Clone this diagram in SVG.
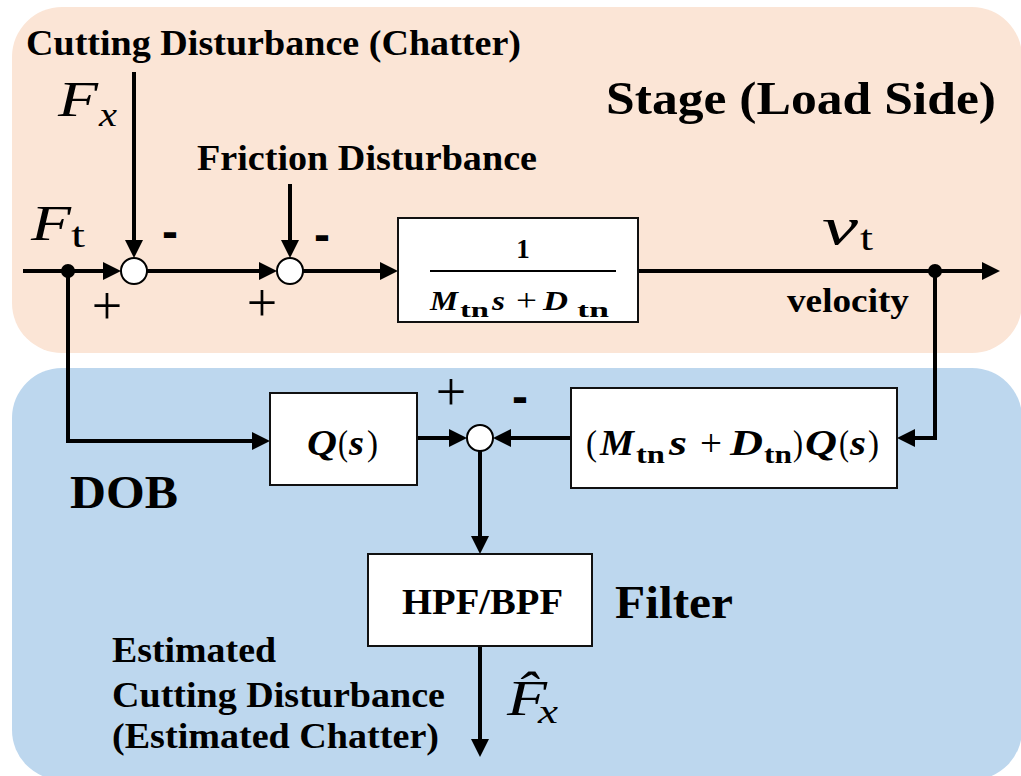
<svg xmlns="http://www.w3.org/2000/svg" width="1021" height="776" viewBox="0 0 1021 776">
  <defs>
    <marker id="arr" markerUnits="userSpaceOnUse" markerWidth="18" markerHeight="18" viewBox="0 0 18 18" refX="14" refY="9" orient="auto">
      <path d="M0,0 L18,9 L0,18 z" fill="#000"/>
    </marker>
  </defs>
  <style>
    text { font-family: "Liberation Serif", "Times New Roman", serif; fill: #000; }
    .lbl { font-weight: bold; }
    .math { font-style: italic; }
    .mrm { font-style: normal; }
    .bm { font-weight: bold; font-style: italic; }
    .bsub { font-weight: bold; font-style: normal; }
    .plus { font-size: 54px; text-anchor: middle; }
    .minus { font-family: "Liberation Sans", Arial, sans-serif; font-weight: bold; font-size: 48px; text-anchor: middle; }
    .box { fill: #fff; stroke: #111; stroke-width: 2; }
    .sum { fill: #fff; stroke: #000; stroke-width: 2; }
    .wire { fill: none; stroke: #000; stroke-width: 4; }
  </style>

  <g id="regions">
    <rect x="12" y="7" width="1010" height="346" rx="50" ry="50" fill="#FBE5D6"/>
    <rect x="12" y="368" width="1010" height="412" rx="50" ry="50" fill="#BDD7EE"/>
  </g>

  <g id="region-labels">
    <text class="lbl" x="606" y="114" font-size="46" textLength="390" lengthAdjust="spacingAndGlyphs">Stage (Load Side)</text>
    <text class="lbl" x="70" y="508" font-size="46" textLength="108" lengthAdjust="spacingAndGlyphs">DOB</text>
    <text class="lbl" x="615" y="618" font-size="46" textLength="118" lengthAdjust="spacingAndGlyphs">Filter</text>
  </g>

  <g id="connectors">
    <path class="wire" d="M23,271 H117" marker-end="url(#arr)"/>
    <path class="wire" d="M147,271 H273" marker-end="url(#arr)"/>
    <path class="wire" d="M303,271 H394" marker-end="url(#arr)"/>
    <path class="wire" d="M638,271 H996" marker-end="url(#arr)"/>
    <path class="wire" d="M134,72 V254" marker-end="url(#arr)"/>
    <path class="wire" d="M290,184 V254" marker-end="url(#arr)"/>
    <path class="wire" d="M68,271 V441 H266" marker-end="url(#arr)"/>
    <path class="wire" d="M935,271 V438 H901" marker-end="url(#arr)"/>
    <path class="wire" d="M417,438 H463" marker-end="url(#arr)"/>
    <path class="wire" d="M571,438 H497" marker-end="url(#arr)"/>
    <path class="wire" d="M480,451 V550" marker-end="url(#arr)"/>
    <path class="wire" d="M480,646 V753" marker-end="url(#arr)"/>
    <circle cx="68" cy="271" r="7" fill="#000"/>
    <circle cx="935" cy="271" r="7" fill="#000"/>
  </g>

  <g id="sum1">
    <circle class="sum" cx="134" cy="271" r="13"/>
    <text class="minus" x="170" y="248">-</text>
    <text class="plus" x="107" y="324">+</text>
  </g>
  <g id="sum2">
    <circle class="sum" cx="290" cy="271" r="13"/>
    <text class="minus" x="322" y="251">-</text>
    <text class="plus" x="262" y="321">+</text>
  </g>
  <g id="sum3">
    <circle class="sum" cx="480" cy="438" r="13"/>
    <text class="minus" x="520" y="413">-</text>
    <text class="plus" x="451" y="410">+</text>
  </g>

  <g id="cutting-disturbance">
    <text class="lbl" x="26" y="55" font-size="36" textLength="495" lengthAdjust="spacingAndGlyphs">Cutting Disturbance (Chatter)</text>
    <text class="math" x="58" y="116" font-size="50" textLength="40" lengthAdjust="spacingAndGlyphs">F</text>
    <text class="math" x="99" y="126" font-size="34" textLength="18" lengthAdjust="spacingAndGlyphs">x</text>
  </g>

  <g id="friction-disturbance">
    <text class="lbl" x="197" y="170" font-size="36" textLength="340" lengthAdjust="spacingAndGlyphs">Friction Disturbance</text>
  </g>

  <g id="input-ft">
    <text class="math" x="31" y="240" font-size="50" textLength="40" lengthAdjust="spacingAndGlyphs">F</text>
    <text class="mrm" x="71" y="247" font-size="36" textLength="14" lengthAdjust="spacingAndGlyphs">t</text>
  </g>

  <g id="plant">
    <rect class="box" x="398" y="218" width="240" height="104"/>
    <text class="bsub" x="523" y="258" font-size="27" text-anchor="middle">1</text>
    <line x1="430" y1="271" x2="616" y2="271" stroke="#000" stroke-width="2"/>
    <text class="bm" x="430" y="310" font-size="27" textLength="28" lengthAdjust="spacingAndGlyphs">M</text>
    <text class="bsub" x="460" y="317" font-size="20" textLength="29" lengthAdjust="spacingAndGlyphs">tn</text>
    <text class="bm" x="492" y="310" font-size="27" textLength="13" lengthAdjust="spacingAndGlyphs">s</text>
    <text class="mrm" x="516" y="311" font-size="31" textLength="21" lengthAdjust="spacingAndGlyphs">+</text>
    <text class="bm" x="543" y="310" font-size="27" textLength="25" lengthAdjust="spacingAndGlyphs">D</text>
    <text class="bsub" x="577" y="317" font-size="20" textLength="32" lengthAdjust="spacingAndGlyphs">tn</text>
  </g>

  <g id="output-vt">
    <text class="math" x="822" y="244" font-size="52" textLength="36" lengthAdjust="spacingAndGlyphs">v</text>
    <text class="mrm" x="860" y="250" font-size="36" textLength="13" lengthAdjust="spacingAndGlyphs">t</text>
    <text class="lbl" x="787" y="312" font-size="34" textLength="122" lengthAdjust="spacingAndGlyphs">velocity</text>
  </g>

  <g id="q-filter">
    <rect class="box" x="270" y="393" width="147" height="92"/>
    <text class="bm" x="307" y="455" font-size="35" textLength="30" lengthAdjust="spacingAndGlyphs">Q</text>
    <text class="mrm" x="338" y="455" font-size="35" textLength="10" lengthAdjust="spacingAndGlyphs">(</text>
    <text class="bm" x="349" y="455" font-size="35" textLength="15" lengthAdjust="spacingAndGlyphs">s</text>
    <text class="mrm" x="367" y="455" font-size="35" textLength="11" lengthAdjust="spacingAndGlyphs">)</text>
  </g>

  <g id="inverse-model">
    <rect class="box" x="571" y="388" width="326" height="100"/>
    <text class="mrm" x="586" y="455" font-size="35" textLength="11" lengthAdjust="spacingAndGlyphs">(</text>
    <text class="bm" x="600" y="455" font-size="35" textLength="34" lengthAdjust="spacingAndGlyphs">M</text>
    <text class="bsub" x="636" y="463" font-size="26" textLength="29" lengthAdjust="spacingAndGlyphs">tn</text>
    <text class="bm" x="669" y="455" font-size="35" textLength="18" lengthAdjust="spacingAndGlyphs">s</text>
    <text class="mrm" x="700" y="456" font-size="38" textLength="22" lengthAdjust="spacingAndGlyphs">+</text>
    <text class="bm" x="730" y="455" font-size="35" textLength="33" lengthAdjust="spacingAndGlyphs">D</text>
    <text class="bsub" x="764" y="463" font-size="26" textLength="28" lengthAdjust="spacingAndGlyphs">tn</text>
    <text class="mrm" x="793" y="455" font-size="35" textLength="10" lengthAdjust="spacingAndGlyphs">)</text>
    <text class="bm" x="805" y="455" font-size="35" textLength="32" lengthAdjust="spacingAndGlyphs">Q</text>
    <text class="mrm" x="839" y="455" font-size="35" textLength="10" lengthAdjust="spacingAndGlyphs">(</text>
    <text class="bm" x="850" y="455" font-size="35" textLength="16" lengthAdjust="spacingAndGlyphs">s</text>
    <text class="mrm" x="868" y="455" font-size="35" textLength="11" lengthAdjust="spacingAndGlyphs">)</text>
  </g>

  <g id="hpf-bpf">
    <rect class="box" x="368" y="554" width="224" height="92"/>
    <text class="lbl" x="402" y="614" font-size="36" textLength="161" lengthAdjust="spacingAndGlyphs">HPF/BPF</text>
  </g>

  <g id="estimate-output">
    <text class="math" x="507" y="715" font-size="50" textLength="40" lengthAdjust="spacingAndGlyphs">F̂</text>
    <text class="math" x="538" y="723" font-size="34" textLength="20" lengthAdjust="spacingAndGlyphs">x</text>
    <text class="lbl" x="112" y="662" font-size="36" textLength="164" lengthAdjust="spacingAndGlyphs">Estimated</text>
    <text class="lbl" x="112" y="707" font-size="36" textLength="333" lengthAdjust="spacingAndGlyphs">Cutting Disturbance</text>
    <text class="lbl" x="112" y="748" font-size="36" textLength="327" lengthAdjust="spacingAndGlyphs">(Estimated Chatter)</text>
  </g>
</svg>
